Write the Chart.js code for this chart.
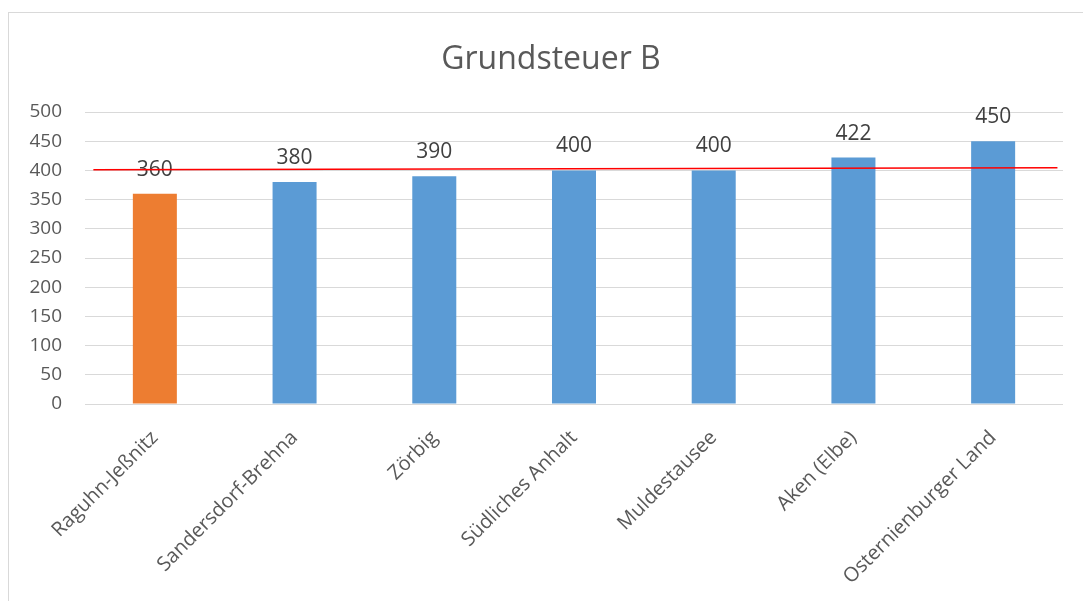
<!DOCTYPE html>
<html>
<head>
<meta charset="utf-8">
<script src="https://cdn.jsdelivr.net/npm/chart.js@4.4.0/dist/chart.umd.min.js"></script>
<style>
  html, body { margin: 0; padding: 0; background: #ffffff; overflow: hidden; }
  #frame { position: absolute; left: 8px; top: 12px; width: 1100px; height: 620px; border: 1px solid #d9d9d9; box-sizing: border-box; }
  #c { position: absolute; left: 0; top: 0; }
</style>
</head>
<body>
<div id="frame"></div>
<canvas id="c" width="1083" height="601"></canvas>
<script>
const categories = ['Raguhn-Jeßnitz', 'Sandersdorf-Brehna', 'Zörbig', 'Südliches Anhalt', 'Muldestausee', 'Aken (Elbe)', 'Osternienburger Land'];
const values = [360, 380, 390, 400, 400, 422, 450];
const highlightCategory = 'Raguhn-Jeßnitz';
const yTicks = [0, 50, 100, 150, 200, 250, 300, 350, 400, 450, 500];
// red reference line (hand-drawn in the original, slightly sloped)
const refLineX = [-0.44, 6.46];
const refLineY = [401, 404.5];

const FONT = '"Open Sans", "Noto Sans", sans-serif';
const ORANGE = '#ED7D31', BLUE = '#5B9BD5', TEXT = '#595959';

const labelPlugin = {
  id: 'valueLabels',
  afterLayout(chart) {
    // centre the title over the whole chart frame, as in the original
    const t = chart.titleBlock;
    if (t) { t.left = 19; t.right = 1083; t.width = t.right - t.left; }
  },
  beforeDatasetsDraw(chart) {
    const ctx = chart.ctx;
    const meta = chart.getDatasetMeta(1);
    ctx.save();
    ctx.font = '21px ' + FONT;
    ctx.fillStyle = '#404040';
    ctx.textAlign = 'center';
    ctx.textBaseline = 'alphabetic';
    meta.data.forEach((bar, i) => {
      ctx.fillText(String(values[i]), bar.x, bar.y - 18);
    });
    ctx.restore();
  }
};

new Chart(document.getElementById('c'), {
  type: 'bar',
  data: {
    labels: categories,
    datasets: [
      {
        type: 'line',
        data: refLineX.map((x, i) => ({ x: x, y: refLineY[i] })),
        xAxisID: 'x2',
        borderColor: '#FF0000',
        borderWidth: 1.5,
        pointRadius: 0,
        fill: false,
        order: 0
      },
      {
        type: 'bar',
        data: values,
        xAxisID: 'x',
        backgroundColor: categories.map(c => c === highlightCategory ? ORANGE : BLUE),
        categoryPercentage: 1,
        barPercentage: 0.315,
        grouped: false,
        order: 1
      }
    ]
  },
  options: {
    responsive: false,
    animation: false,
    devicePixelRatio: 1,
    layout: { padding: { left: 10, right: 20, top: 0, bottom: 0 } },
    plugins: {
      legend: { display: false },
      tooltip: { enabled: false },
      title: {
        display: true,
        text: 'Grundsteuer B',
        color: TEXT,
        font: { family: FONT, size: 32, weight: 'normal', lineHeight: 1.2 },
        padding: { top: 41, bottom: 32.6 }
      }
    },
    scales: {
      x: {
        type: 'category',
        offset: true,
        grid: { display: false },
        border: { display: false },
        ticks: {
          color: TEXT,
          font: { family: FONT, size: 20 },
          minRotation: 45,
          maxRotation: 45,
          padding: 14
        },
        afterFit(scale) { scale.height = 197; }
      },
      x2: {
        type: 'linear',
        display: false,
        offset: false,
        grid: { offset: false },
        min: -0.5,
        max: categories.length - 0.5
      },
      y: {
        min: 0,
        max: 500,
        afterBuildTicks(scale) { scale.ticks = yTicks.map(v => ({ value: v })); },
        grid: { color: '#D9D9D9', lineWidth: 1, drawTicks: false },
        border: { display: false },
        ticks: {
          color: TEXT,
          font: { family: FONT, size: 19 },
          padding: 23
        },
        afterFit(scale) { scale.width = 75; }
      }
    }
  },
  plugins: [labelPlugin]
});
</script>
</body>
</html>
